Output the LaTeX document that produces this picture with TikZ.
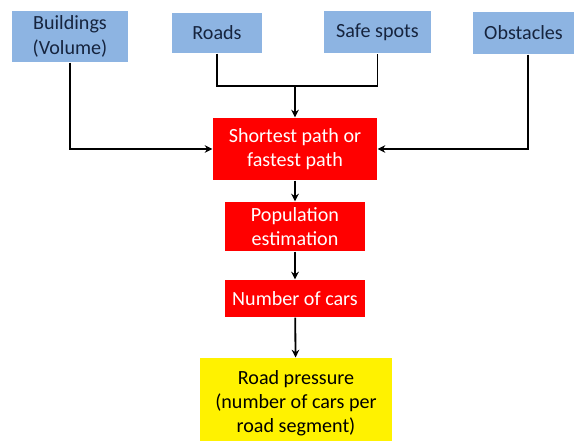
\documentclass[tikz,border=0pt]{standalone}
\usepackage{fontspec}
\setmainfont{Carlito}
\usepackage{tikz}
\usetikzlibrary{positioning, arrows.meta}

\definecolor{inblue}{RGB}{141,180,226}
\definecolor{inkblue}{RGB}{22,36,62}

\begin{document}
\begin{tikzpicture}[x=0.025cm, y=-0.025cm, thick,
  input node/.style={rectangle,fill=inblue,text=inkblue,align=center,inner sep=2pt,font=\fontsize{14.3}{17.2}\selectfont},
  step node/.style={rectangle,fill=red,text=white,align=center,inner sep=2pt,font=\fontsize{14.3}{17.2}\selectfont},
  out node/.style={rectangle,fill=yellow,text=black,align=center,inner sep=2pt,font=\fontsize{14.3}{17.2}\selectfont},
  flow/.style={line width=1.3pt,-{Stealth[length=5.5pt,width=5.5pt]}}]

\useasboundingbox (0,0) rectangle (574,441);
\clip (0,0) rectangle (574,441);

\node[input node, minimum width=2.9cm, minimum height=1.275cm] (build) at (70,36.5) {Buildings\\(Volume)};
\node[input node, minimum width=2.25cm, minimum height=1cm] (roads) at (217,33) {Roads};
\node[input node, minimum width=2.675cm, minimum height=1.05cm] (safe) at (377.5,32) {Safe spots};
\node[input node, minimum width=2.525cm, minimum height=1.05cm] (obst) at (523.5,33) {Obstacles};

\node[step node, minimum width=4.1cm, minimum height=1.55cm] (path) at (295,149) {Shortest path or\\fastest path};
\node[step node, minimum width=3.475cm, minimum height=1.225cm] (pop) at (295,226.5) {Population\\estimation};
\node[step node, minimum width=3.5cm, minimum height=0.925cm] (cars) at (295,298.5) {Number of cars};
\node[out node, minimum width=4.8cm, minimum height=2.25cm] (press) at (296,403) {Road pressure\\(number of cars per\\road segment)};

\coordinate (join) at (295,86);

\draw[line width=1.3pt] (roads.south) |- (join) -| (safe.south);
\draw[flow] (join) -- (path.north);
\draw[flow] (build.south) |- (path.west);
\draw[flow] (obst.south -| 528,0) |- (path.east);
\draw[flow] (path) -- (pop);
\draw[flow] (pop) -- (cars);
\draw[flow] (cars) -- (press);

\end{tikzpicture}
\end{document}
